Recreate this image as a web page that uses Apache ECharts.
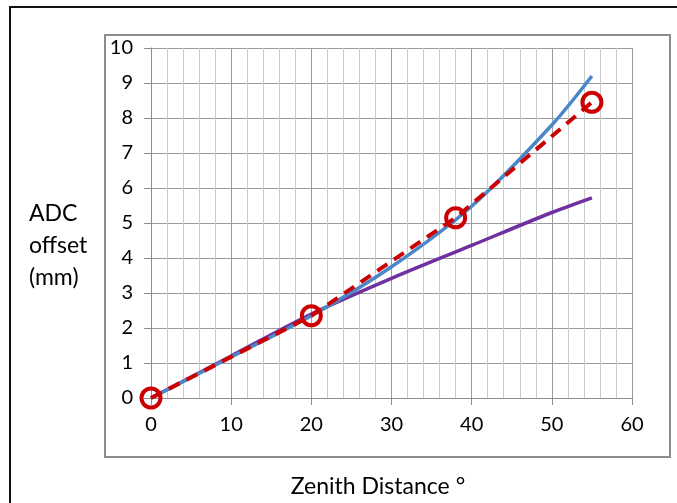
<!DOCTYPE html>
<html><head><meta charset="utf-8">
<script src="https://cdn.jsdelivr.net/npm/echarts@6/dist/echarts.min.js"></script>
<style>html,body{margin:0;padding:0;background:#fff}#c{width:677px;height:503px}</style>
</head><body><div id="c"></div>
<script>
// Data
const blueX = [0, 10, 20, 30, 40, 50, 55];
const blueY = [0, 1.17, 2.35, 3.75, 5.48, 7.8, 9.2];
const purpleX = [0, 10, 20, 30, 40, 50, 55];
const purpleY = [0, 1.2, 2.4, 3.42, 4.36, 5.3, 5.72];
const redX = [0, 20, 38, 55];
const redY = [0, 2.35, 5.15, 8.45];
const xTicks = [0, 10, 20, 30, 40, 50, 60];
const yTicks = [0, 1, 2, 3, 4, 5, 6, 7, 8, 9, 10];
const yTitle = 'ADC\noffset\n(mm)';
const xTitle = 'Zenith Distance °';

const pair = (xs, ys) => xs.map((x, i) => [x, ys[i]]);
const font = 'Lato, "Open Sans", sans-serif';

const chart = echarts.init(document.getElementById('c'), null, {renderer: 'canvas'});
chart.setOption({
  animation: false,
  backgroundColor: '#fff',
  grid: {left: 151, right: 45, top: 48, bottom: 105, containLabel: false},
  graphic: [
    {type: 'rect', shape: {x: 10, y: 7, width: 700, height: 520}, style: {fill: 'none', stroke: '#111', lineWidth: 2}, z: -10},
    {type: 'rect', shape: {x: 105, y: 35, width: 565, height: 422}, style: {fill: 'none', stroke: '#8c8c8c', lineWidth: 2}, z: -9},
    {type: 'text', left: 29, top: 198, style: {text: yTitle, font: '23px ' + font, fill: '#000', lineHeight: 32}},
    {type: 'text', x: 378, y: 487, style: {text: xTitle, font: '23px ' + font, fill: '#000', align: 'center', verticalAlign: 'middle'}}
  ],
  xAxis: {
    type: 'value', min: xTicks[0], max: xTicks[xTicks.length - 1], interval: 10,
    axisLine: {show: true, lineStyle: {color: '#8c8c8c', width: 1}},
    axisTick: {show: true, length: 7, lineStyle: {color: '#8c8c8c'}},
    axisLabel: {color: '#000', fontSize: 20, fontFamily: font, margin: 17},
    splitLine: {show: true, lineStyle: {color: '#9a9a9a', width: 1}},
    minorTick: {show: false, splitNumber: 5},
    minorSplitLine: {show: true, lineStyle: {color: '#cccccc', width: 1}}
  },
  yAxis: {
    type: 'value', min: yTicks[0], max: yTicks[yTicks.length - 1], interval: 1,
    axisLine: {show: true, lineStyle: {color: '#8c8c8c', width: 1}},
    axisTick: {show: true, length: 7, lineStyle: {color: '#8c8c8c'}},
    axisLabel: {color: '#000', fontSize: 20, fontFamily: font, margin: 18},
    splitLine: {show: true, lineStyle: {color: '#9a9a9a', width: 1}}
  },
  series: [
    {type: 'line', data: pair(purpleX, purpleY), smooth: 0.3, showSymbol: false, symbol: 'none',
     lineStyle: {color: '#7030A0', width: 3.5}, z: 2},
    {type: 'line', data: pair(blueX, blueY), smooth: 0.3, showSymbol: false, symbol: 'none',
     lineStyle: {color: '#4a86c8', width: 3.5}, z: 3},
    {type: 'line', data: pair(redX, redY), smooth: false, symbol: 'circle', symbolSize: 19, showSymbol: true,
     lineStyle: {color: '#cc0000', width: 4, type: [12, 8]},
     itemStyle: {color: 'rgba(255,255,255,0)', borderColor: '#cc0000', borderWidth: 4}, z: 4}
  ]
});
</script></body></html>
